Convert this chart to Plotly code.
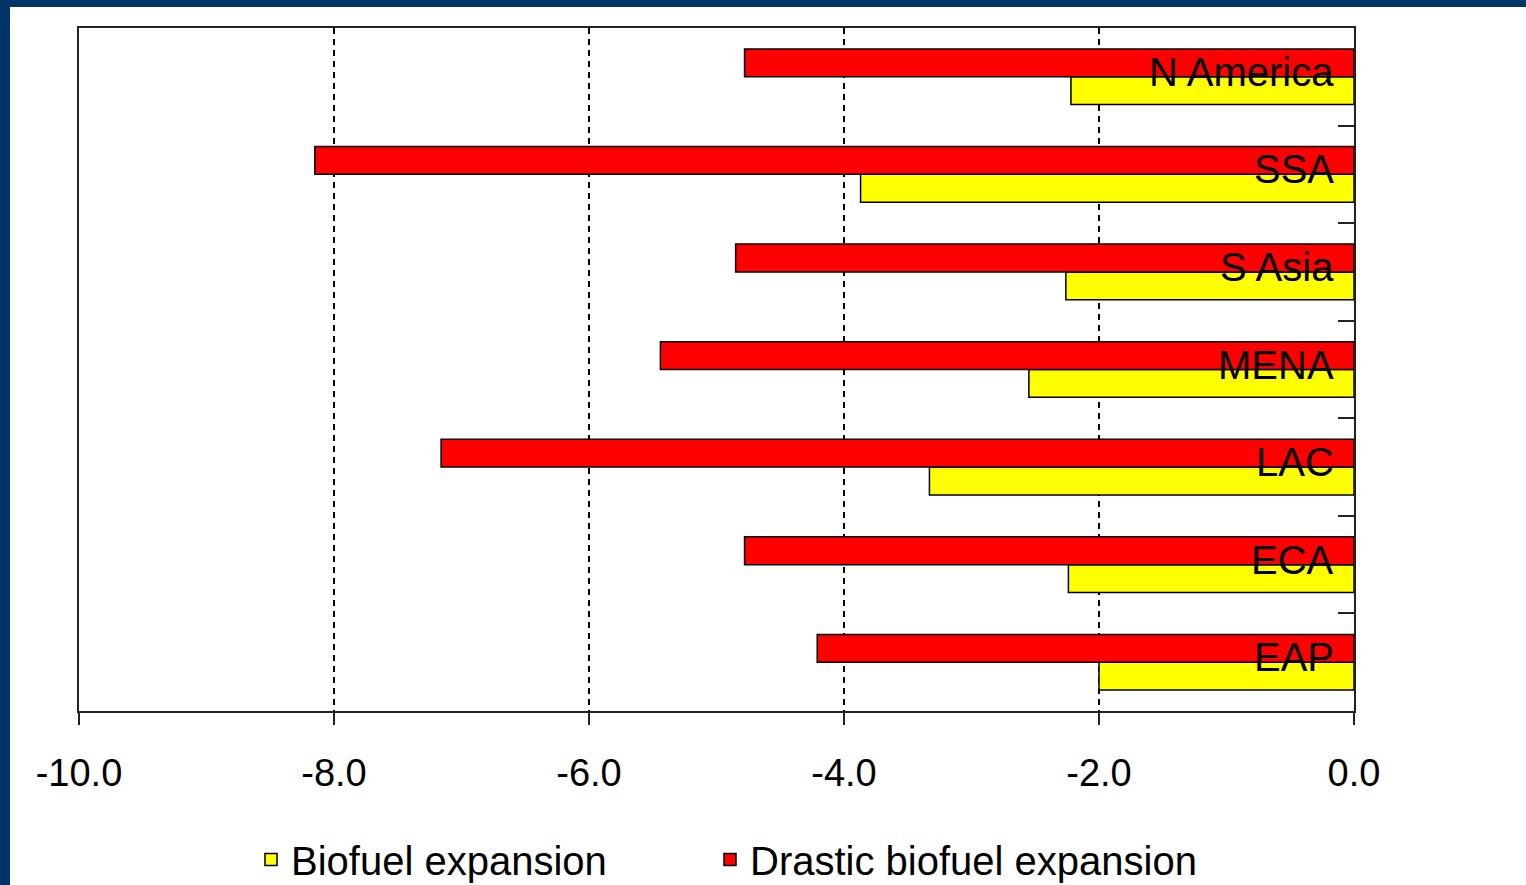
import plotly.graph_objects as go

# Regions from bottom to top of the chart
regions = ["EAP", "ECA", "LAC", "MENA", "S Asia", "SSA", "N America"]
biofuel = [-2.00, -2.24, -3.33, -2.55, -2.26, -3.87, -2.22]
drastic = [-4.21, -4.78, -7.16, -5.44, -4.85, -8.15, -4.78]
x_ticks = [-10, -8, -6, -4, -2, 0]
x_tick_labels = ["-10.0", "-8.0", "-6.0", "-4.0", "-2.0", "0.0"]

FONT = "Liberation Sans, Arial, sans-serif"
W, H = 1526, 900
L, R, T, B = 79, 1354, 28, 711

fig = go.Figure()
fig.add_trace(go.Bar(
    name="Biofuel expansion", y=regions, x=biofuel, orientation="h",
    marker=dict(color="#FFFF00", line=dict(color="black", width=1.5)),
))
fig.add_trace(go.Bar(
    name="Drastic biofuel expansion", y=regions, x=drastic, orientation="h",
    marker=dict(color="#FF0000", line=dict(color="black", width=1.5)),
    legendwidth=520,
))

for r in regions:
    fig.add_annotation(x=0, y=r, xref="x", yref="y", text=r, showarrow=False,
                       xanchor="right", yanchor="middle", xshift=-18, yshift=5,
                       font=dict(family=FONT, size=40, color="black"))

def px_x(p):
    return (p - L) / (R - L)

def px_y(p):
    return (B - p) / (B - T)

navy = "#003366"
fig.add_shape(type="rect", xref="paper", yref="paper", x0=px_x(0), x1=px_x(1526),
              y0=px_y(7), y1=px_y(0), fillcolor=navy, line=dict(width=0))
fig.add_shape(type="rect", xref="paper", yref="paper", x0=px_x(0), x1=px_x(10),
              y0=px_y(H), y1=px_y(0), fillcolor=navy, line=dict(width=0))

fig.update_layout(
    width=W, height=H,
    margin=dict(l=L, r=W - R, t=T, b=H - B, pad=0, autoexpand=False),
    paper_bgcolor="white", plot_bgcolor="white",
    barmode="group", bargap=0.43, bargroupgap=0,
    font=dict(family=FONT, color="black"),
    showlegend=True,
    legend=dict(orientation="h", x=px_x(251), xanchor="left", y=px_y(892), yanchor="bottom",
                font=dict(family=FONT, size=40, color="black"),
                entrywidth=414, entrywidthmode="pixels", bgcolor="rgba(0,0,0,0)"),
    xaxis=dict(range=[-10, 0], tickvals=x_ticks, ticktext=x_tick_labels,
               showgrid=True, gridcolor="black", gridwidth=1.5, griddash="6px,5px",
               showline=True, linecolor="#222", linewidth=2, mirror=True,
               ticks="outside", ticklen=12, tickwidth=2, tickcolor="#222",
               tickfont=dict(family=FONT, size=38, color="black"),
               ticklabelstandoff=15, zeroline=False, fixedrange=True),
    yaxis=dict(categoryorder="array", categoryarray=regions, side="right",
               showline=True, linecolor="#222", linewidth=2, mirror=True,
               ticks="inside", tickson="boundaries", ticklen=16, tickwidth=2, tickcolor="#222",
               showticklabels=False, showgrid=False, zeroline=False, fixedrange=True),
)

fig.write_html("out.html", config={"displayModeBar": False},
               post_script="document.body.style.margin='0';document.body.style.overflow='hidden';")
